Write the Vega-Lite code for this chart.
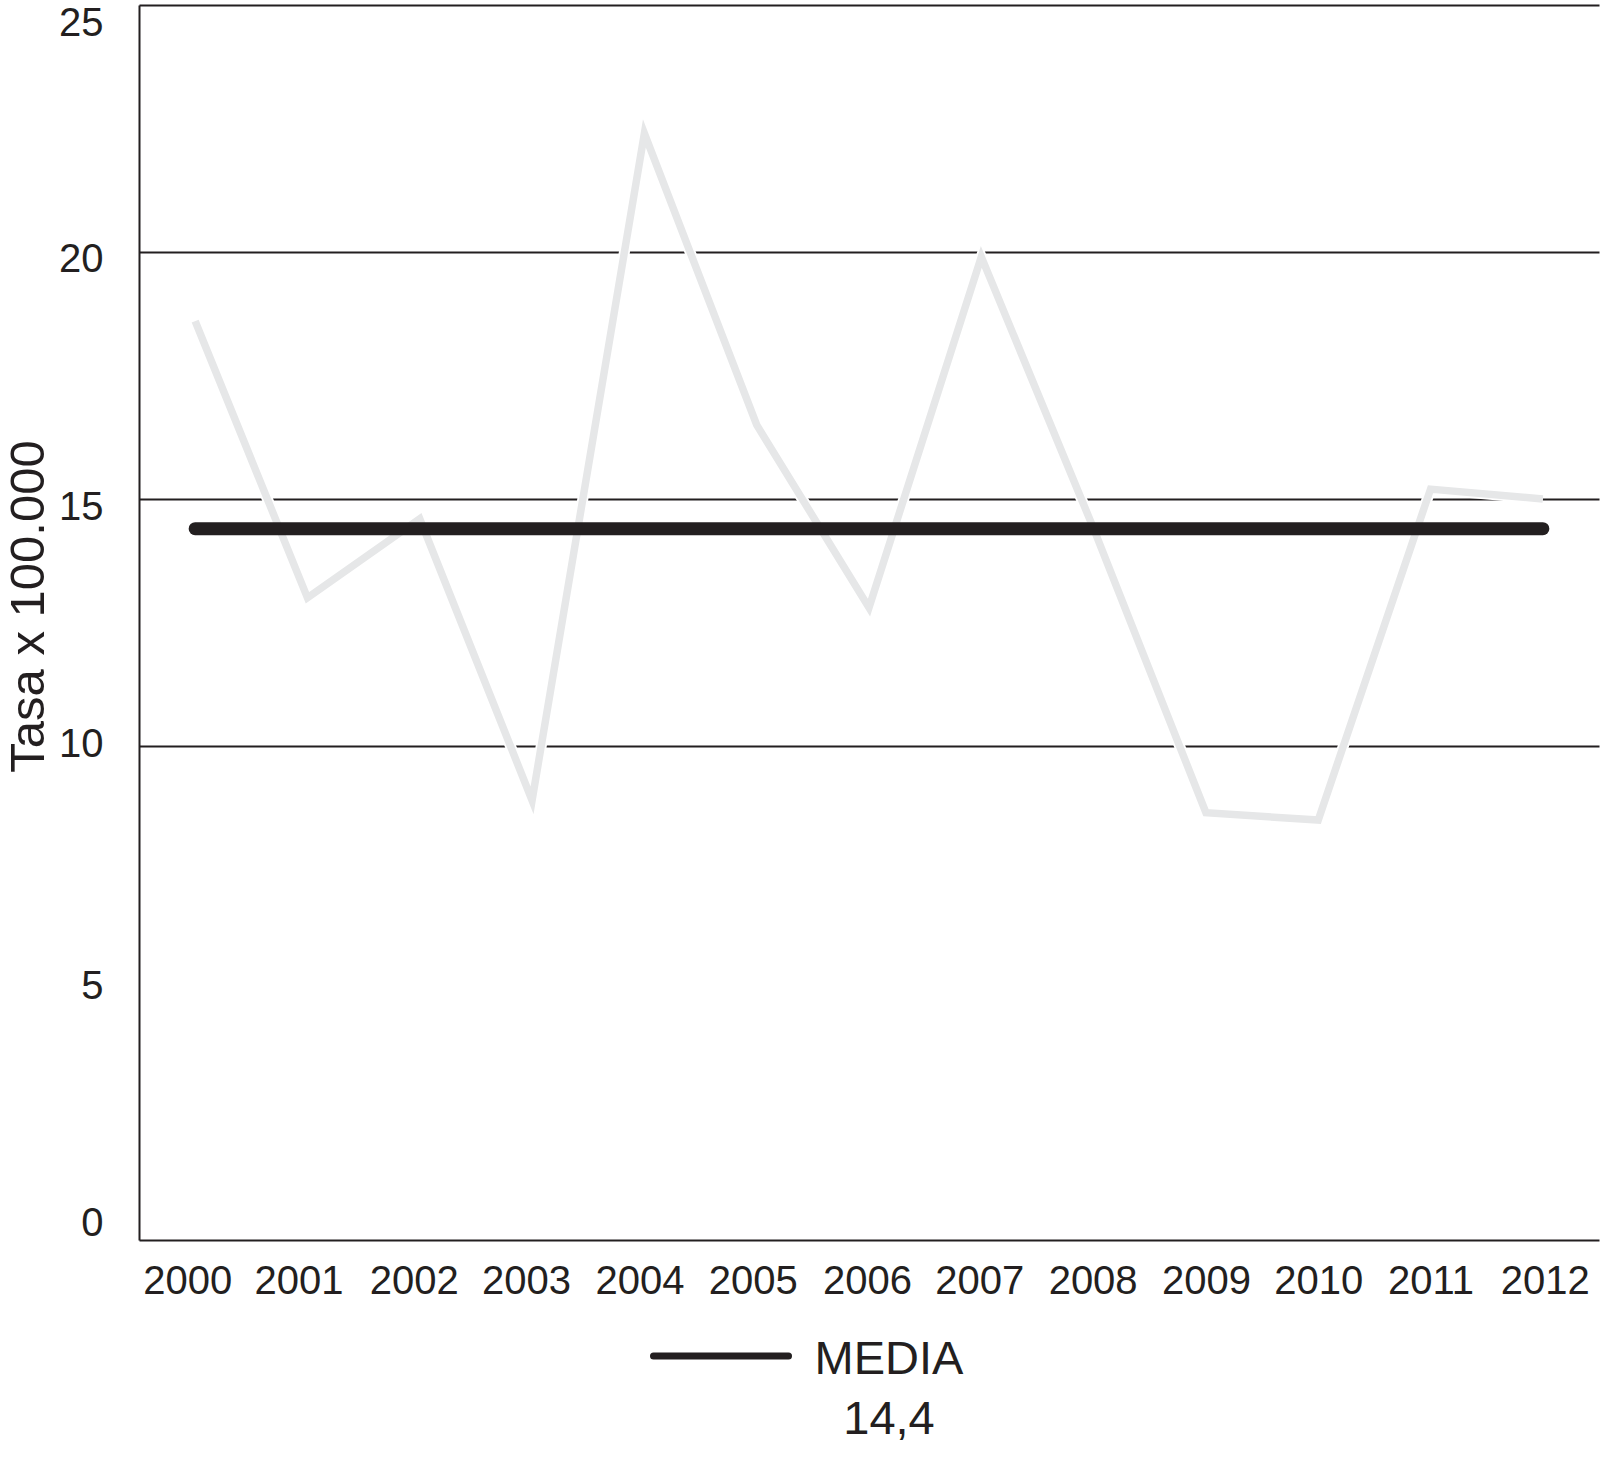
{
  "$schema": "https://vega.github.io/schema/vega-lite/v6.json",
  "width": 1460,
  "height": 1235,
  "autosize": {"type": "none"},
  "padding": {"left": 139, "top": 5, "right": 3, "bottom": 217},
  "background": "white",
  "config": {"view": {"stroke": null}, "font": "Liberation Sans"},
  "data": {
    "values": [
      {"anio": "2000", "tasa": 18.6, "media": 14.4},
      {"anio": "2001", "tasa": 13.0, "media": 14.4},
      {"anio": "2002", "tasa": 14.6, "media": 14.4},
      {"anio": "2003", "tasa": 8.9, "media": 14.4},
      {"anio": "2004", "tasa": 22.4, "media": 14.4},
      {"anio": "2005", "tasa": 16.5, "media": 14.4},
      {"anio": "2006", "tasa": 12.8, "media": 14.4},
      {"anio": "2007", "tasa": 19.9, "media": 14.4},
      {"anio": "2008", "tasa": 14.4, "media": 14.4},
      {"anio": "2009", "tasa": 8.65, "media": 14.4},
      {"anio": "2010", "tasa": 8.5, "media": 14.4},
      {"anio": "2011", "tasa": 15.2, "media": 14.4},
      {"anio": "2012", "tasa": 15.0, "media": 14.4}
    ]
  },
  "encoding": {
    "x": {
      "field": "anio",
      "type": "ordinal",
      "scale": {"type": "point", "padding": 0.5},
      "axis": {
        "title": null,
        "labelAngle": 0,
        "ticks": false,
        "labelPadding": 21,
        "labelFontSize": 40,
        "labelFont": "Liberation Sans",
        "labelColor": "#231f20",
        "labelOffset": {
          "condition": [
            {"test": "datum.value == '2000'", "value": -8},
            {"test": "datum.value == '2001'", "value": -9},
            {"test": "datum.value == '2002'", "value": -6},
            {"test": "datum.value == '2003'", "value": -6},
            {"test": "datum.value == '2004'", "value": -5},
            {"test": "datum.value == '2005'", "value": -4},
            {"test": "datum.value == '2006'", "value": -2},
            {"test": "datum.value == '2007'", "value": -2},
            {"test": "datum.value == '2008'", "value": -1},
            {"test": "datum.value == '2012'", "value": 2}
          ],
          "value": 0
        },
        "domainColor": "#231f20",
        "domainWidth": 2,
        "grid": false
      }
    }
  },
  "layer": [
    {
      "mark": {"type": "line", "stroke": "white", "strokeWidth": 11},
      "encoding": {
        "y": {
          "field": "tasa",
          "type": "quantitative",
          "scale": {"domain": [0, 25], "nice": false, "zero": true},
          "axis": {
            "title": "Tasa x 100.000",
            "titleFont": "Liberation Sans",
            "titleFontSize": 49,
            "titleFontWeight": "normal",
            "titleColor": "#231f20",
            "titleAngle": 270,
            "titleX": -96,
            "titleY": 601,
            "titleAlign": "center",
            "titleBaseline": "alphabetic",
            "values": [0, 5, 10, 15, 20, 25],
            "ticks": false,
            "labelPadding": 36,
            "labelFontSize": 40,
            "labelFont": "Liberation Sans",
            "labelColor": "#231f20",
            "labelBaseline": "middle",
            "labelOffset": {
              "condition": [
                {"test": "datum.value == 25", "value": 18},
                {"test": "datum.value == 20", "value": 7},
                {"test": "datum.value == 15", "value": 8},
                {"test": "datum.value == 10", "value": -2},
                {"test": "datum.value == 5", "value": -7},
                {"test": "datum.value == 0", "value": -17}
              ],
              "value": 0
            },
            "domainColor": "#231f20",
            "domainWidth": 2,
            "grid": true,
            "gridColor": "#231f20",
            "gridWidth": 1.8,
            "gridOpacity": {"condition": {"test": "datum.value < 10", "value": 0}, "value": 1}
          }
        }
      }
    },
    {
      "mark": {"type": "line", "stroke": "#e6e7e8", "strokeWidth": 7.5},
      "encoding": {
        "y": {"field": "tasa", "type": "quantitative"}
      }
    },
    {
      "mark": {"type": "line", "strokeWidth": 13, "strokeCap": "round"},
      "encoding": {
        "y": {"field": "media", "type": "quantitative"},
        "stroke": {
          "datum": "MEDIA",
          "scale": {"range": ["#231f20"]},
          "legend": {
            "orient": "none",
            "legendX": 511,
            "legendY": 1280,
            "padding": 0,
            "title": null,
            "symbolType": "stroke",
            "symbolSize": 18225,
            "symbolStrokeWidth": 7,
            "symbolStrokeColor": "#231f20",
            "labelExpr": "['MEDIA', '14,4']",
            "labelFont": "Liberation Sans",
            "labelFontSize": 47,
            "labelColor": "#231f20",
            "labelAlign": "center",
            "labelBaseline": "middle",
            "labelOffset": 97,
            "labelLimit": 0,
            "encode": {
              "labels": {"update": {"lineHeight": {"value": 60}, "dy": {"value": 4}}},
              "symbols": {"update": {"strokeCap": {"value": "round"}}}
            }
          }
        }
      }
    }
  ]
}
